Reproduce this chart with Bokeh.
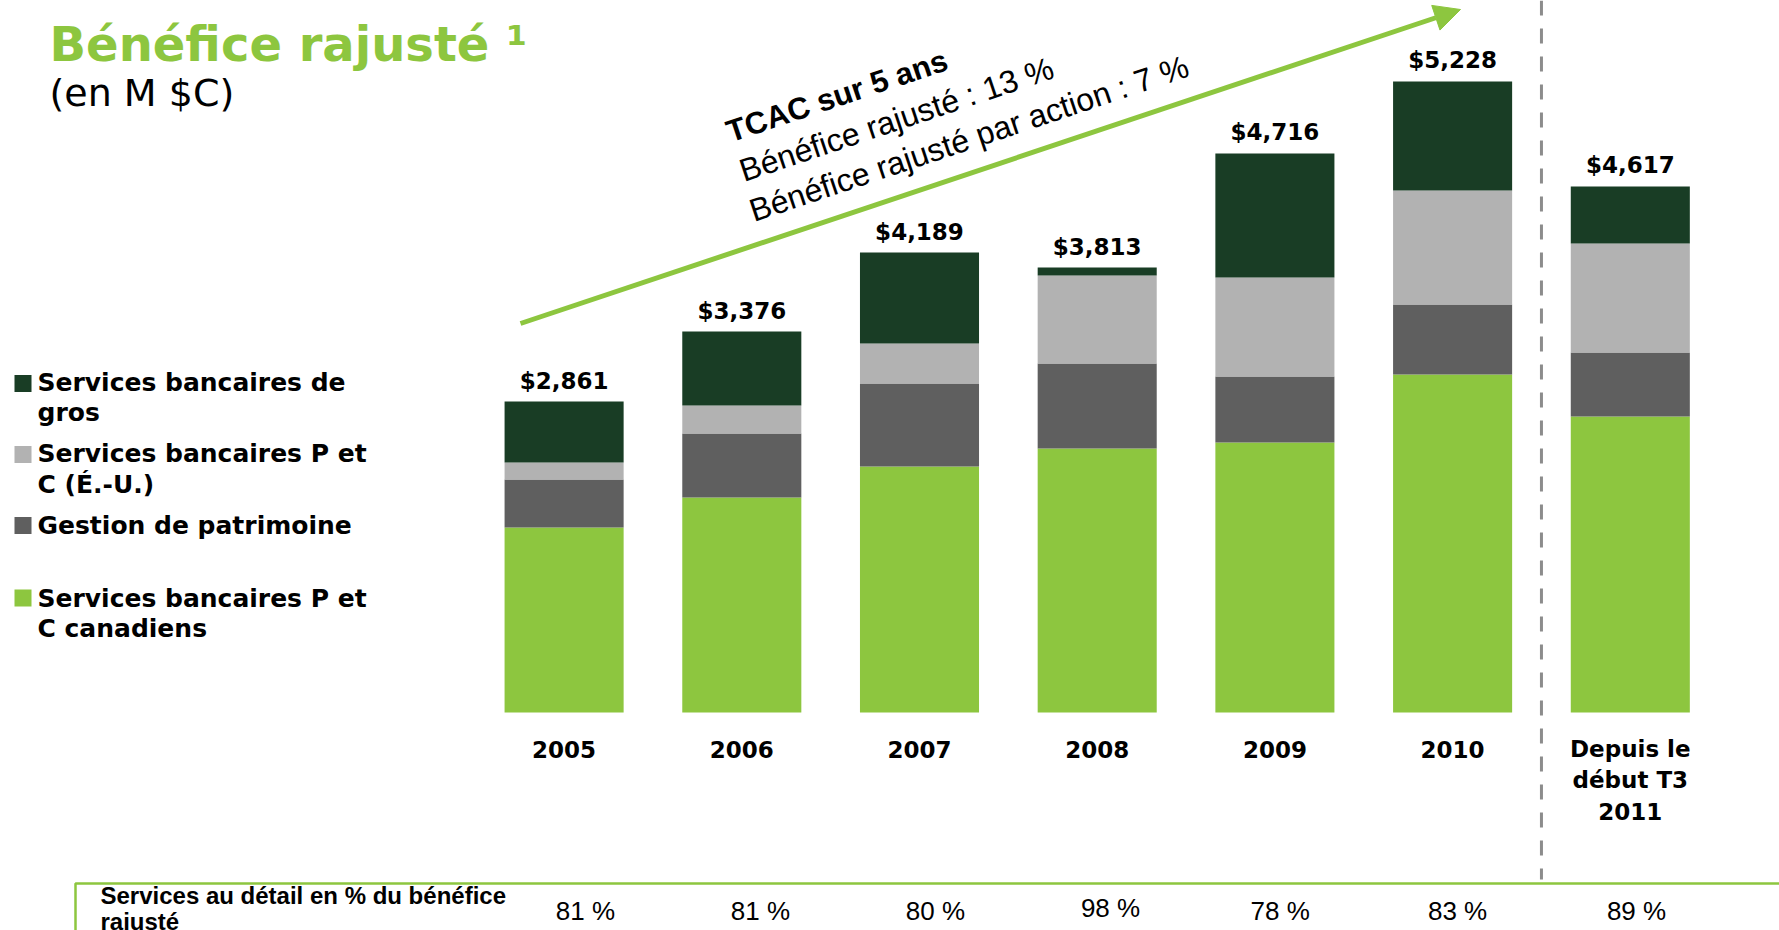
import math
from bokeh.plotting import figure
from bokeh.models import Range1d, Arrow, NormalHead, ColumnDataSource
from bokeh.core.properties import value
from bokeh.embed import file_html
from bokeh.resources import INLINE

# ---------------- data ----------------
categories = ["2005", "2006", "2007", "2008", "2009", "2010", "Depuis le\ndébut T3\n2011"]
canadian_pc = [1697, 1972, 2257, 2422, 2477, 3101, 2716]
wealth = [440, 587, 761, 780, 606, 642, 587]
us_pc = [156, 257, 367, 807, 908, 1046, 1000]
wholesale = [560, 679, 835, 73, 1138, 1000, 523]
total_labels = ["$2,861", "$3,376", "$4,189", "$3,813", "$4,716", "$5,228", "$4,617"]
retail_share = ["81 %", "81 %", "80 %", "98 %", "78 %", "83 %", "89 %"]
series_names = ["Services bancaires de\ngros", "Services bancaires P et\nC (É.-U.)",
                "Gestion de patrimoine", "Services bancaires P et\nC canadiens"]

GREEN = "#8DC63F"
DARK = "#193D25"
LIGHT = "#B2B2B2"
MID = "#5F5F5F"

# ---------------- geometry ----------------
W, H = 1779, 930
X0, DX = 563.6, 177.7     # px of first category, px per category
Y0, SY = 712.0, 0.109     # px of zero line, px per M$

def px(X):  # pixel x -> data x
    return (X - X0) / DX

def py(Y):  # pixel y (from top) -> data y
    return (Y0 - Y) / SY

p = figure(width=W, height=H,
           x_range=Range1d(-X0 / DX, (W - X0) / DX),
           y_range=Range1d((Y0 - H) / SY, Y0 / SY),
           output_backend="svg", toolbar_location=None,
           x_axis_location=None, y_axis_location=None,
           min_border=0, min_border_left=0, min_border_right=0,
           min_border_top=0, min_border_bottom=0)
p.outline_line_color = None
p.grid.visible = False
p.background_fill_color = "white"
p.border_fill_color = "white"

xs = list(range(len(categories)))
tops = [a + b + c + d for a, b, c, d in zip(canadian_pc, wealth, us_pc, wholesale)]
src = ColumnDataSource(dict(x=xs, cpc=canadian_pc, wm=wealth, us=us_pc, wh=wholesale,
                            top=tops, lab=total_labels))

p.vbar_stack(["cpc", "wm", "us", "wh"], x="x", width=0.67, source=src,
             color=[GREEN, MID, LIGHT, DARK], line_color=None)

VER = value("DejaVu Sans")
ARIAL = value("Liberation Sans")

# totals above bars
p.text(x="x", y="top", text="lab", source=src, text_align="center",
       text_baseline="middle", y_offset=-21,
       text_font=VER, text_font_style="bold", text_font_size="23px", text_color="black")

# category labels
cat_y = [py(748.5)] * 6 + [py(780)]
p.text(x=xs, y=cat_y, text=categories, text_align="center",
       text_baseline="middle", text_line_height=1.21,
       text_font=VER, text_font_style="bold", text_font_size="23px", text_color="black")

# dashed separator between 2010 and the partial year
p.line(x=[5.5, 5.5], y=[py(0), py(879)], line_color="#8C8C8C", line_width=3, line_dash="15 13")

# title
p.text(x=[px(49)], y=[py(43)], text=["Bénéfice rajusté ¹"], text_baseline="middle",
       text_font=VER, text_font_style="bold", text_font_size="48px", text_color=GREEN)
p.text(x=[px(49)], y=[py(92)], text=["(en M $C)"], text_baseline="middle",
       text_font=VER, text_font_size="38px", text_color="black")

# legend (top to bottom)
leg_colors = [DARK, LIGHT, MID, GREEN]
leg_sq_y = [383, 454, 525, 597.5]
leg_txt_y = [397, 468.5, 525, 613]
p.scatter(x=[px(22.5)] * 4, y=[py(v) for v in leg_sq_y], marker="square", size=17,
          fill_color=leg_colors, line_color=None)
p.text(x=[px(37)] * 4, y=[py(v) for v in leg_txt_y], text=series_names,
       text_baseline="middle", text_line_height=1.065,
       text_font=VER, text_font_style="bold", text_font_size="25px", text_color="black")

# CAGR arrow & annotation
ang = math.radians(18.5)
p.add_layout(Arrow(x_start=px(520), y_start=py(323), x_end=px(1460), y_end=py(9),
                   line_color=GREEN, line_width=5,
                   end=NormalHead(size=26, fill_color=GREEN, line_color=GREEN, line_width=1)))
p.text(x=[px(727)], y=[py(132)], text=["TCAC sur 5 ans"], angle=ang, text_baseline="middle",
       text_font=ARIAL, text_font_style="bold", text_font_size="31px", text_color="black")
p.text(x=[px(740), px(750)], y=[py(171), py(211)],
       text=["Bénéfice rajusté : 13 %", "Bénéfice rajusté par action : 7 %"],
       angle=ang, text_baseline="middle",
       text_font=ARIAL, text_font_size="32px", text_color="black")

# bottom table row
p.quad(left=[px(75)], right=[px(1800)], top=[py(883)], bottom=[py(990)],
       fill_color=None, line_color=GREEN, line_width=2.5)
p.text(x=[px(100)], y=[py(908)], text=["Services au détail en % du bénéfice\nrajusté"],
       text_baseline="middle", text_line_height=0.97,
       text_font=ARIAL, text_font_style="bold", text_font_size="24px", text_color="black")
share_dx = [0.12, 0.105, 0.09, 0.075, 0.03, 0.028, 0.035]   # column alignment of the row
share_y = [py(910)] * 3 + [py(907)] + [py(910)] * 3
p.text(x=[x + d for x, d in zip(xs, share_dx)], y=share_y, text=retail_share,
       text_align="center", text_baseline="middle",
       text_font=ARIAL, text_font_size="26px", text_color="black")

open("out.html", "w").write(file_html(p, INLINE))
